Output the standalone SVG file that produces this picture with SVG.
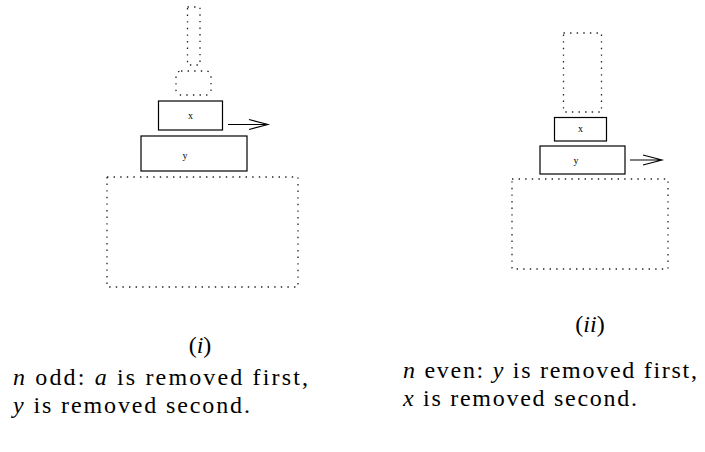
<svg xmlns="http://www.w3.org/2000/svg" width="705" height="452" viewBox="0 0 705 452">
<style>
.box{fill:none;stroke:#000;stroke-width:1.2}
.dot{fill:none;stroke:#222;stroke-width:1.3;stroke-dasharray:1.4 5.2}
.lbl{font-family:'Liberation Serif','Times New Roman','DejaVu Serif',serif;font-size:10px;fill:#000;text-anchor:middle}
.cap{font-family:'Liberation Serif','Times New Roman','DejaVu Serif',serif;font-size:24px;fill:#000}
.it{font-style:italic}
.arr{fill:none;stroke:#000;stroke-width:1.1}
</style>
<rect width="705" height="452" fill="#fff"/>
<g id="left">
  <g id="l-stick"><rect class="dot" x="187.5" y="7" width="12.5" height="58"/></g>
  <g id="l-round"><rect class="dot" x="176" y="71" width="35" height="24" rx="5"/></g>
  <g id="l-x"><rect class="box" x="158.5" y="101" width="64" height="29"/><text class="lbl" x="190.5" y="119">x</text></g>
  <g id="l-y"><rect class="box" x="141" y="136" width="106" height="35"/><text class="lbl" x="185" y="159">y</text></g>
  <g id="l-base"><rect class="dot" x="107" y="177" width="191" height="110"/></g>
</g>
<g id="right">
  <g id="r-stick"><rect class="dot" x="563.5" y="33" width="38" height="79"/></g>
  <g id="r-x"><rect class="box" x="554.5" y="117.5" width="52" height="23.5"/><text class="lbl" x="580.5" y="132">x</text></g>
  <g id="r-y"><rect class="box" x="540" y="146" width="85" height="28"/><text class="lbl" x="576" y="164">y</text></g>
  <g id="r-base"><rect class="dot" x="512" y="179" width="156" height="90"/></g>
</g>
<g id="connectors">
  <path class="arr" d="M228,124.5 H268 M249,119.5 L268,124.5 L249,129.5"/>
  <path class="arr" d="M630,160 H662 M643,155 L662,160 L643,165"/>
</g>
<g id="captions">
  <text class="cap" x="200" y="353" text-anchor="middle">(<tspan class="it">i</tspan>)</text>
  <text class="cap" x="590" y="332" text-anchor="middle">(<tspan class="it">ii</tspan>)</text>
  <text class="cap" x="13" y="385" textLength="295" lengthAdjust="spacing"><tspan class="it">n</tspan> odd: <tspan class="it">a</tspan> is removed first,</text>
  <text class="cap" x="13" y="413" textLength="237" lengthAdjust="spacing"><tspan class="it">y</tspan> is removed second.</text>
  <text class="cap" x="403" y="378" textLength="294" lengthAdjust="spacing"><tspan class="it">n</tspan> even: <tspan class="it">y</tspan> is removed first,</text>
  <text class="cap" x="403" y="406" textLength="234" lengthAdjust="spacing"><tspan class="it">x</tspan> is removed second.</text>
</g>
</svg>
